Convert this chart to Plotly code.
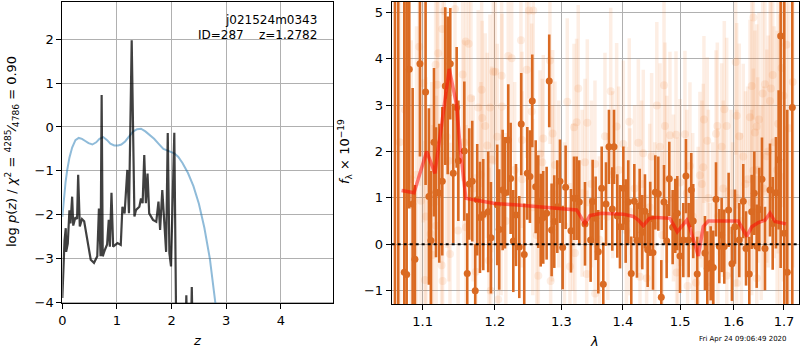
import plotly.graph_objects as go
import math

# ---------------- left panel: p(z) ----------------
z_prior = [0.0, 0.03, 0.06, 0.09, 0.13, 0.18, 0.24, 0.30, 0.36, 0.42, 0.48, 0.55, 0.62, 0.68,
           0.75, 0.82, 0.88, 0.95, 1.02, 1.08, 1.15, 1.22, 1.30, 1.37, 1.44, 1.52, 1.60, 1.68,
           1.76, 1.85, 1.95, 2.05, 2.12, 2.20, 2.30, 2.40, 2.50, 2.60, 2.70, 2.78, 2.85, 2.95]
logp_prior = [-2.05, -1.6, -1.25, -0.98, -0.7, -0.47, -0.3, -0.25, -0.27, -0.32, -0.37, -0.4, -0.35, -0.27,
              -0.23, -0.3, -0.38, -0.42, -0.42, -0.4, -0.33, -0.22, -0.1, -0.05, -0.04, -0.1, -0.18, -0.27,
              -0.38, -0.5, -0.55, -0.6, -0.68, -0.82, -1.05, -1.35, -1.75, -2.3, -3.0, -3.7, -4.4, -5.5]

z_fit = [0.0, 0.02, 0.04, 0.063, 0.07, 0.10, 0.13, 0.15, 0.18, 0.20, 0.24, 0.27, 0.29, 0.32, 0.36,
         0.40, 0.46, 0.52, 0.58, 0.64, 0.67, 0.70, 0.72, 0.74, 0.78, 0.82, 0.85, 0.87, 0.90, 0.93,
         1.01, 1.07, 1.10, 1.14, 1.19, 1.22, 1.27, 1.32, 1.35, 1.41, 1.44, 1.47, 1.50, 1.53, 1.56,
         1.59, 1.66, 1.72, 1.76, 1.79, 1.83, 1.87, 1.90, 1.93, 1.96, 1.99, 2.05, 2.08, 2.12, 2.25,
         2.27, 2.29, 2.35, 2.37, 2.39, 2.45]
logp_fit = [-3.9, -3.0, -2.6, -2.31, -2.85, -2.66, -1.9, -2.2, -1.59, -2.25, -2.06, -2.1, -1.09, -2.27, -2.1,
            -2.15, -2.57, -3.03, -3.1, -2.95, -1.86, -2.95, 0.73, -2.95, -2.8, -2.68, -2.12, -2.73, -1.5, -2.73,
            -2.65, -2.69, -1.82, -1.97, -0.98, -1.97, 1.98, -2.04, -1.89, -1.82, -1.63, -1.74, -0.64, -1.74, -1.06,
            -1.97, -2.12, -2.16, -1.7, -2.35, -1.44, -2.42, -2.85, -0.14, -2.88, -3.18, -0.13, -4.0, -5.0, -5.0,
            -3.84, -5.0, -5.0, -3.65, -5.0, -5.0]

# ---------------- right panel: spectrum ----------------
lam_good = [1.0639, 1.0681, 1.0759, 1.0790, 1.0824, 1.0868, 1.0898, 1.0964, 1.1039, 1.1083, 1.1110,
            1.1151, 1.1178, 1.1222, 1.1263, 1.1304, 1.1337, 1.1372, 1.1413, 1.1460, 1.1483, 1.1566,
            1.1607, 1.1635, 1.1677, 1.1719, 1.1747, 1.1786, 1.1833, 1.1904, 1.1943, 1.2034, 1.2063,
            1.2113, 1.2147, 1.2195, 1.2230, 1.2269, 1.2309, 1.2358, 1.2387, 1.2432, 1.2478, 1.2518,
            1.2553, 1.2605, 1.2644, 1.2681, 1.2720, 1.2772, 1.2812, 1.2849, 1.2890, 1.2937, 1.2979,
            1.3021, 1.3068, 1.3152, 1.3200, 1.3242, 1.3284, 1.3376, 1.3467, 1.3500, 1.3549, 1.3592,
            1.3648, 1.3674, 1.3719, 1.3768, 1.3823, 1.3852, 1.3907, 1.3952, 1.4008, 1.4048, 1.4092,
            1.4143, 1.4195, 1.4240, 1.4287, 1.4332, 1.4378, 1.4425, 1.4470, 1.4518, 1.4558, 1.4611,
            1.4664, 1.4712, 1.4759, 1.4806, 1.4866, 1.4913, 1.4949, 1.4998, 1.5058, 1.5106, 1.5155,
            1.5203, 1.5239, 1.5313, 1.5456, 1.5499, 1.5563, 1.5612, 1.5663, 1.5725, 1.5770, 1.5820,
            1.5903, 1.5967, 1.6025, 1.6108, 1.6186, 1.6240, 1.6304, 1.6351, 1.6403, 1.6450, 1.6501,
            1.6555, 1.6615, 1.6716, 1.6770, 1.6836, 1.6891, 1.6932, 1.7006, 1.7067, 1.7171]
flux_good = [6.0, 5.5, -0.6, -0.65, 3.77, 0.87, -0.32, 3.89, 3.28, 1.03, 0.08,
             2.2, 1.12, 1.1, 1.36, 3.41, 3.21, 3.89, 1.53, 2.95, 1.8, 2.01,
             -0.63, 1.3, 1.36, -1.0, 0.96, 0.58, 0.64, 0.70, 0.14, 0.85, 0.32,
             1.17, 1.11, 2.25, 1.42, 0.07, 0.63, -0.06, 2.59, -0.22, 1.53, 1.46,
             3.09, 1.24, 0.92, 0.52, 0.58, 0.67, 3.52, 0.31, 0.49, 0.81, 1.36,
             -0.07, 1.23, 0.29, 0.99, 0.99, 0.91, 0.44, 0.09, 0.92, 0.56, -0.16,
             1.21, -0.86, 0.87, 2.1, 0.76, 2.1, 0.61, 0.38, 1.21, 0.5, 0.91,
             -0.63, 0.93, 0.08, 0.83, 0.26, 0.71, -0.12, 0.55, -0.18, 1.12, 1.09,
             -1.14, 0.91, 0.07, 1.41, 0.37, 0.61, 0.67, -0.25, 0.09, 1.47, 0.09,
             1.17, 0.5, -0.64, -0.19, -0.52, -0.41, -0.5, 0.97, -0.04, 0.2, -0.05,
             0.74, -0.42, 0.38, 0.09, 0.93, -0.09, -0.64, 0.7, 1.1, -0.04, 0.75,
             1.4, -0.09, 1.17, 0.45, 1.11, 1.82, 4.49, 0.24, -0.6, 2.95]
err_good = [8.0, 7.5, 6.0, 6.0, 3.0, 2.5, 1.6, 2.0, 2.0, 1.9, 1.5,
            1.6, 1.4, 1.5, 1.6, 1.7, 1.7, 1.2, 1.5, 1.3, 1.3, 1.5,
            1.3, 1.2, 1.3, 1.0, 1.2, 1.2, 1.2, 1.3, 1.2, 1.3, 1.3,
            1.3, 1.2, 1.2, 1.2, 1.1, 1.1, 1.1, 1.1, 1.1, 1.0, 1.0,
            1.0, 1.0, 1.0, 1.0, 1.0, 1.0, 1.0, 1.0, 1.0, 1.0, 0.9,
            0.9, 0.9, 0.9, 0.9, 0.9, 0.9, 0.9, 0.9, 0.9, 0.9, 0.9,
            0.9, 0.9, 0.9, 0.8, 0.9, 0.8, 0.9, 0.9, 0.9, 0.9, 0.9,
            0.8, 0.8, 0.8, 0.8, 0.8, 0.8, 0.8, 0.8, 0.8, 0.8, 0.8,
            0.8, 0.8, 0.8, 0.8, 0.8, 0.8, 0.8, 0.8, 0.8, 0.8, 0.8,
            0.8, 0.8, 0.8, 0.8, 0.8, 0.8, 0.8, 0.8, 0.8, 0.8, 0.8,
            0.8, 0.8, 0.8, 0.8, 0.8, 0.8, 0.8, 0.8, 0.9, 0.9, 0.9,
            0.9, 0.9, 1.0, 1.0, 1.2, 1.5, 5.0, 5.0, 3.5, 4.5]

lam_faint = [1.0768, 1.0955, 1.0978, 1.1008, 1.1030, 1.1044, 1.1106, 1.1133, 1.1173, 1.1195, 1.1208,
             1.1254, 1.1263, 1.1268, 1.1290, 1.1323, 1.1368, 1.1437, 1.1543, 1.1585, 1.1589, 1.1627,
             1.1659, 1.1729, 1.1761, 1.1810, 1.1818, 1.1862, 1.1890, 1.1915, 1.1929, 1.1939, 1.1977,
             1.1953, 1.2007, 1.2034, 1.2048, 1.2098, 1.2103, 1.2195, 1.2245, 1.2383, 1.2398, 1.2469,
             1.2504, 1.2544, 1.2568, 1.2644, 1.2670, 1.2705, 1.2720, 1.2823, 1.2834, 1.2865, 1.2901,
             1.3093, 1.3136, 1.3200, 1.3215, 1.3242, 1.3268, 1.3376, 1.3404, 1.3413, 1.3538, 1.3540,
             1.3702, 1.3797, 1.3896, 1.4008, 1.4109, 1.4264, 1.4292, 1.4349, 1.4407, 1.4494, 1.4585,
             1.4641, 1.4712, 1.4729, 1.4818, 1.4926, 1.4937, 1.4998, 1.5088, 1.5136, 1.5179, 1.5289,
             1.5363, 1.5424, 1.5437, 1.5499, 1.5550, 1.5663, 1.5688, 1.5770, 1.5820, 1.5866, 1.5867,
             1.6039, 1.6058, 1.6059, 1.6108, 1.6186, 1.6318, 1.6351, 1.6383, 1.6384, 1.6416, 1.6450,
             1.6451, 1.6495, 1.6569, 1.6615, 1.6716, 1.6736, 1.6770, 1.6918,
             1.0850, 1.1120, 1.1480, 1.1690, 1.2160, 1.2290, 1.2620, 1.2960, 1.3050, 1.3330, 1.3610,
             1.3830, 1.4060, 1.4200, 1.4460, 1.4680, 1.4880, 1.5230, 1.5400, 1.5600, 1.5950, 1.6150,
             1.6270, 1.6540, 1.6680, 1.6860, 1.6990, 1.7050,
             1.6950, 1.6880, 1.6800, 1.6650, 1.6580, 1.6470, 1.6350, 1.6230, 1.6060, 1.5980, 1.5800,
             1.5700, 1.5520, 1.5330, 1.5120, 1.4960, 1.4760, 1.4550, 1.4320, 1.4120, 1.3930, 1.3750,
             1.3480, 1.3180, 1.2860, 1.2560, 1.2400, 1.2090, 1.1800, 1.1560, 1.1350, 1.1180, 1.0920,
             1.0700, 1.7100, 1.7180]
flux_faint = [2.9, 4.26, 0.94, 3.47, -0.77, 0.6, 0.22, -0.23, 3.87, 3.44, 4.12,
              -0.45, 4.64, -0.79, 5.03, 2.32, -0.21, 5.07, 3.66, 4.37, 0.37, 4.32,
              3.15, -0.59, 2.95, 3.33, 2.72, 2.55, 2.13, -0.35, 2.95, -1.0, 3.72,
              1.83, 3.72, 2.32, -1.19, 3.63, 2.97, 4.06, 4.01, 4.4, 2.25, 3.76,
              5.04, 2.86, 5.04, -0.68, 1.95, 1.77, 2.28, 3.96, -0.79, 2.39, 1.71,
              3.07, -0.48, 2.52, -0.19, 2.63, 3.36, 1.77, -0.64, 2.62, 1.73, -1.06,
              2.33, 3.3, 2.54, 2.16, 2.64, 2.19, -0.7, 1.96, -0.73, 1.89, 2.99,
              2.1, 3.43, 2.55, 2.35, 2.36, -0.61, 1.33, 2.37, -0.9, 1.69, -0.83,
              1.49, 1.66, 2.69, 2.23, -0.91, 2.38, 2.55, 2.1, 2.91, 2.55, -0.68,
              3.93, 2.77, -0.84, 2.33, 1.89, 2.74, 3.41, 4.89, 1.59, 2.41, 2.54,
              -0.73, 2.69, 3.25, 3.45, 3.09, 3.36, 3.65, 1.46,
              1.4, 0.9, 0.3, 1.2, 0.5, 1.6, 0.2, 1.3, 0.4, 1.1, 0.1,
              1.5, 0.3, 1.2, 0.8, 0.2, 1.0, 0.6, 1.3, 0.4, 1.1, 0.5,
              1.4, 0.9, 2.0, 1.6, 3.2, 4.3,
              3.8, 2.6, 2.2, 1.9, 1.2, 1.6, 0.9, 1.3, 1.0, 0.3, 1.2,
              0.6, 1.0, 0.2, 1.1, 0.5, 1.4, 0.4, 1.3, 0.7, 1.6, 0.6,
              1.3, 0.8, 1.1, 0.8, 1.4, 0.9, 1.5, 2.2, 1.8, 0.4, 1.5,
              2.2, 2.5, 3.5]
err_faint = [3.5, 3.0, 3.0, 3.0, 3.0, 3.0, 2.8, 2.8, 2.6, 2.6, 2.6,
             2.5, 2.5, 2.5, 2.5, 2.4, 2.4, 2.4, 2.3, 2.3, 2.2, 2.2,
             2.2, 2.1, 2.1, 2.1, 2.1, 2.0, 2.0, 2.0, 2.0, 2.0, 2.0,
             2.0, 2.0, 2.0, 2.0, 2.0, 2.0, 2.0, 2.0, 1.9, 1.9, 1.9,
             1.9, 1.9, 1.9, 1.9, 1.8, 1.8, 1.8, 1.8, 1.8, 1.8, 1.8,
             1.8, 1.8, 1.8, 1.8, 1.8, 1.8, 1.8, 1.8, 1.8, 1.8, 1.8,
             1.8, 1.8, 1.8, 1.8, 1.8, 1.8, 1.8, 1.8, 1.8, 1.8, 1.8,
             1.8, 1.8, 1.8, 1.8, 1.8, 1.8, 1.8, 1.8, 1.8, 1.8, 1.8,
             1.8, 1.8, 1.8, 1.8, 1.8, 1.8, 1.8, 1.8, 1.9, 1.9, 1.9,
             2.0, 2.0, 2.0, 2.0, 2.0, 2.1, 2.1, 2.2, 2.2, 2.2, 2.2,
             2.2, 2.3, 2.3, 2.4, 2.5, 2.6, 2.7, 3.5,
             3.0, 2.6, 2.2, 2.0, 1.9, 1.9, 1.8, 1.8, 1.8, 1.8, 1.8,
             1.8, 1.8, 1.8, 1.8, 1.8, 1.8, 1.8, 1.8, 1.8, 1.8, 1.9,
             2.0, 2.1, 2.5, 3.0, 4.0, 5.0,
             3.0, 2.8, 2.5, 2.3, 2.2, 2.0, 2.0, 2.0, 1.9, 1.9, 1.9,
             1.9, 1.9, 1.9, 1.8, 1.8, 1.8, 1.8, 1.8, 1.8, 1.8, 1.8,
             1.8, 1.8, 1.9, 1.9, 1.9, 2.0, 2.0, 2.2, 2.6, 2.8, 3.2,
             3.5, 4.0, 4.0]

lam_model = [1.0724, 1.0886, 1.1053, 1.1164, 1.1358, 1.1459, 1.1513, 1.1588, 1.1739, 1.2001,
             1.2294, 1.2720, 1.3031, 1.3242, 1.3376, 1.3456, 1.3648, 1.4008, 1.4178, 1.4264,
             1.4349, 1.4455, 1.4585, 1.4818, 1.4949, 1.5120, 1.5179, 1.5271, 1.5332, 1.5425,
             1.5518, 1.6089, 1.6254, 1.6353, 1.6483, 1.6615, 1.6716, 1.6816, 1.7041]
flux_model = [1.16, 1.11, 2.0, 1.53, 3.78, 3.0, 2.0, 0.99, 0.95, 0.88,
              0.85, 0.8, 0.75, 0.74, 0.44, 0.62, 0.67, 0.65, 0.6, 0.52,
              0.4, 0.56, 0.58, 0.56, 0.27, 0.52, 0.35, -0.05, -0.25, 0.38,
              0.5, 0.5, 0.17, 0.38, 0.47, 0.52, 0.67, 0.49, 0.44]

lam_ticks = [1.1, 1.2, 1.3, 1.4, 1.5, 1.6, 1.7]

ORANGE = "#da6a22"
FAINT = "rgba(236,120,50,0.13)"
FONT = "DejaVu Sans"

fig = go.Figure()

# left panel
fig.add_trace(go.Scatter(x=z_prior, y=logp_prior, mode="lines",
                         line=dict(color="rgba(31,119,180,0.5)", width=2),
                         xaxis="x", yaxis="y", showlegend=False, hoverinfo="skip"))
fig.add_trace(go.Scatter(x=z_fit, y=logp_fit, mode="lines",
                         line=dict(color="rgba(0,0,0,0.75)", width=2.2),
                         xaxis="x", yaxis="y", showlegend=False, hoverinfo="skip"))

# right panel
fig.add_trace(go.Scatter(x=lam_faint, y=flux_faint, mode="markers",
                         marker=dict(color=FAINT, size=8),
                         error_y=dict(type="data", array=err_faint, color=FAINT, thickness=3.5, width=0),
                         xaxis="x2", yaxis="y2", showlegend=False, hoverinfo="skip"))
fig.add_trace(go.Scatter(x=lam_good, y=flux_good, mode="markers",
                         marker=dict(color=ORANGE, size=7),
                         error_y=dict(type="data", array=err_good, color=ORANGE, thickness=2.6, width=0),
                         xaxis="x2", yaxis="y2", showlegend=False, hoverinfo="skip"))
fig.add_trace(go.Scatter(x=lam_model, y=flux_model, mode="lines",
                         line=dict(color="rgba(255,0,0,0.5)", width=3.5),
                         xaxis="x2", yaxis="y2", showlegend=False, hoverinfo="skip"))

fig.add_shape(type="line", xref="x2 domain", x0=0, x1=1, yref="y2", y0=0, y1=0,
              line=dict(color="black", width=2, dash="dot"))

axis_common = dict(showgrid=True, gridcolor="#b0b0b0", gridwidth=1, zeroline=False,
                   showline=True, linecolor="black", linewidth=1, mirror=True,
                   ticks="outside", ticklen=5, tickcolor="black", automargin=False,
                   tickfont=dict(family=FONT, size=13, color="black"))

fig.update_layout(
    width=800, height=350,
    margin=dict(l=0, r=0, t=0, b=0, autoexpand=False),
    paper_bgcolor="white", plot_bgcolor="white",
    xaxis=dict(domain=[0.0779, 0.4166], range=[0, 4.96], tickvals=[0, 1, 2, 3, 4],
               anchor="y", **axis_common),
    yaxis=dict(domain=[0.1334, 0.9951], range=[-4.023, 2.858], tickvals=[-4, -3, -2, -1, 0, 1, 2],
               anchor="x", **axis_common),
    xaxis2=dict(domain=[0.4896, 0.9991], type="log",
                range=[math.log10(1.0597), math.log10(1.7316)],
                tickvals=lam_ticks, ticktext=[f"{v:.1f}" for v in lam_ticks],
                anchor="y2", **axis_common),
    yaxis2=dict(domain=[0.1314, 0.9951], range=[-1.287, 5.228], tickvals=[-1, 0, 1, 2, 3, 4, 5],
                anchor="x2", **axis_common),
)

def pann(text, x, y, size=13, angle=0, xanchor="center", yanchor="middle"):
    fig.add_annotation(text=text, xref="paper", yref="paper", x=x / 800, y=1 - y / 350,
                       showarrow=False, textangle=angle, xanchor=xanchor, yanchor=yanchor,
                       font=dict(family=FONT, size=size, color="black"))

pann("log <i>p</i>(<i>z</i>) / <i>χ</i><sup>2</sup> = <sup>4285</sup>⁄<sub>4786</sub> = 0.90", 12, 152, angle=-90)
pann("<i>z</i>", 197, 340)
pann("<i>f</i><sub>λ</sub> × 10<sup>−19</sup>", 345, 152, angle=-90)
pann("<i>λ</i>", 594, 341)
pann("j021524m0343", 319, 20, size=12, xanchor="right")
pann("ID=287    z=1.2782", 319, 35, size=12, xanchor="right")
pann("Fri Apr 24 09:06:49 2020", 743, 339, size=7)

fig.write_html("out.html", config={"displayModeBar": False},
               post_script="document.body.style.margin='0px';document.body.style.overflow='hidden';")
